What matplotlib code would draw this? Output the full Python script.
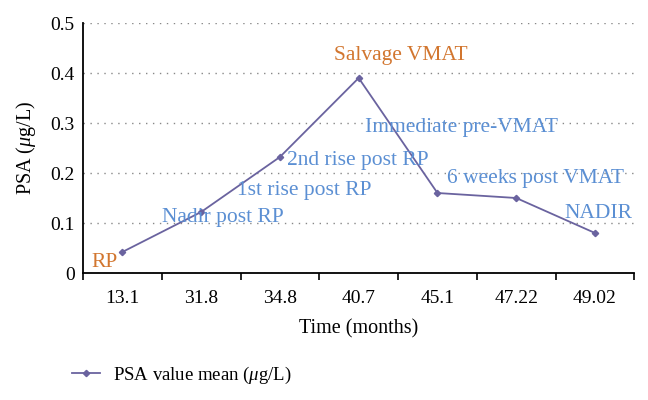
import matplotlib.pyplot as plt
from matplotlib.lines import Line2D

months = ["13.1", "31.8", "34.8", "40.7", "45.1", "47.22", "49.02"]
psa = [0.042, 0.122, 0.232, 0.39, 0.16, 0.15, 0.08]
labels = ["RP", "Nadir post RP", "1st rise post RP", "2nd rise post RP",
          "Salvage VMAT", "Immediate pre-VMAT", "6 weeks post VMAT", "NADIR"]
label_x = [-0.23, 1.28, 2.31, 2.99, 3.53, 4.3, 5.24, 6.04]
label_y = [0.012, 0.102, 0.156, 0.216, 0.426, 0.282, 0.18, 0.11]
label_colors = ["#d2762f", "#5b8fd3", "#5b8fd3", "#5b8fd3",
                "#d2762f", "#5b8fd3", "#5b8fd3", "#5b8fd3"]

LINE = "#6a639f"

plt.rcParams.update({
    "font.family": "Liberation Serif",
    "mathtext.fontset": "custom",
    "mathtext.rm": "Liberation Serif",
    "mathtext.it": "Liberation Serif:italic",
    "font.size": 14,
})

fig = plt.figure(figsize=(6.48, 4.0), dpi=100)
ax = fig.add_axes([0.128, 0.3175, 0.851, 0.625])

x = list(range(len(months)))
ax.plot(x, psa, color=LINE, lw=1.3, marker="D", ms=3.2)

for t, lx, ly, c in zip(labels, label_x, label_y, label_colors):
    ax.text(lx, ly, t, color=c, fontsize=15.5, ha="center", va="baseline")

ax.set_xlim(-0.5, len(months) - 0.5)
ax.set_ylim(0, 0.5)
ax.set_yticks([0, 0.1, 0.2, 0.3, 0.4, 0.5])
ax.set_yticklabels(["0", "0.1", "0.2", "0.3", "0.4", "0.5"])
ax.set_xticks(x)
ax.set_xticklabels(months)
ax.set_xticks([i - 0.5 for i in range(len(months) + 1)], minor=True)
ax.tick_params(axis="x", which="major", length=0, pad=12, labelsize=14)
ax.tick_params(axis="x", which="minor", length=5, width=1.2, direction="out")
ax.tick_params(axis="y", length=0, pad=6, labelsize=14)

ax.grid(axis="y", color="#888888", linestyle=(0, (1, 4)), lw=1)
for s in ["top", "right"]:
    ax.spines[s].set_visible(False)
ax.spines["left"].set_linewidth(1.3)
ax.spines["bottom"].set_linewidth(1.3)

ax.set_xlabel("Time (months)", labelpad=9, fontsize=14.5)
ax.set_ylabel(r"PSA ($\mu$g/L)", labelpad=9, fontsize=14.5)

handle = Line2D([], [], color=LINE, lw=1.3, marker="D", ms=3.2)
fig.legend([handle], [r"PSA value mean ($\mu$g/L)"], loc="center left",
           bbox_to_anchor=(0.085, 0.062), frameon=False, handlelength=1.5,
           handletextpad=0.7, fontsize=13.5)

fig.savefig("out.png", dpi=100)
